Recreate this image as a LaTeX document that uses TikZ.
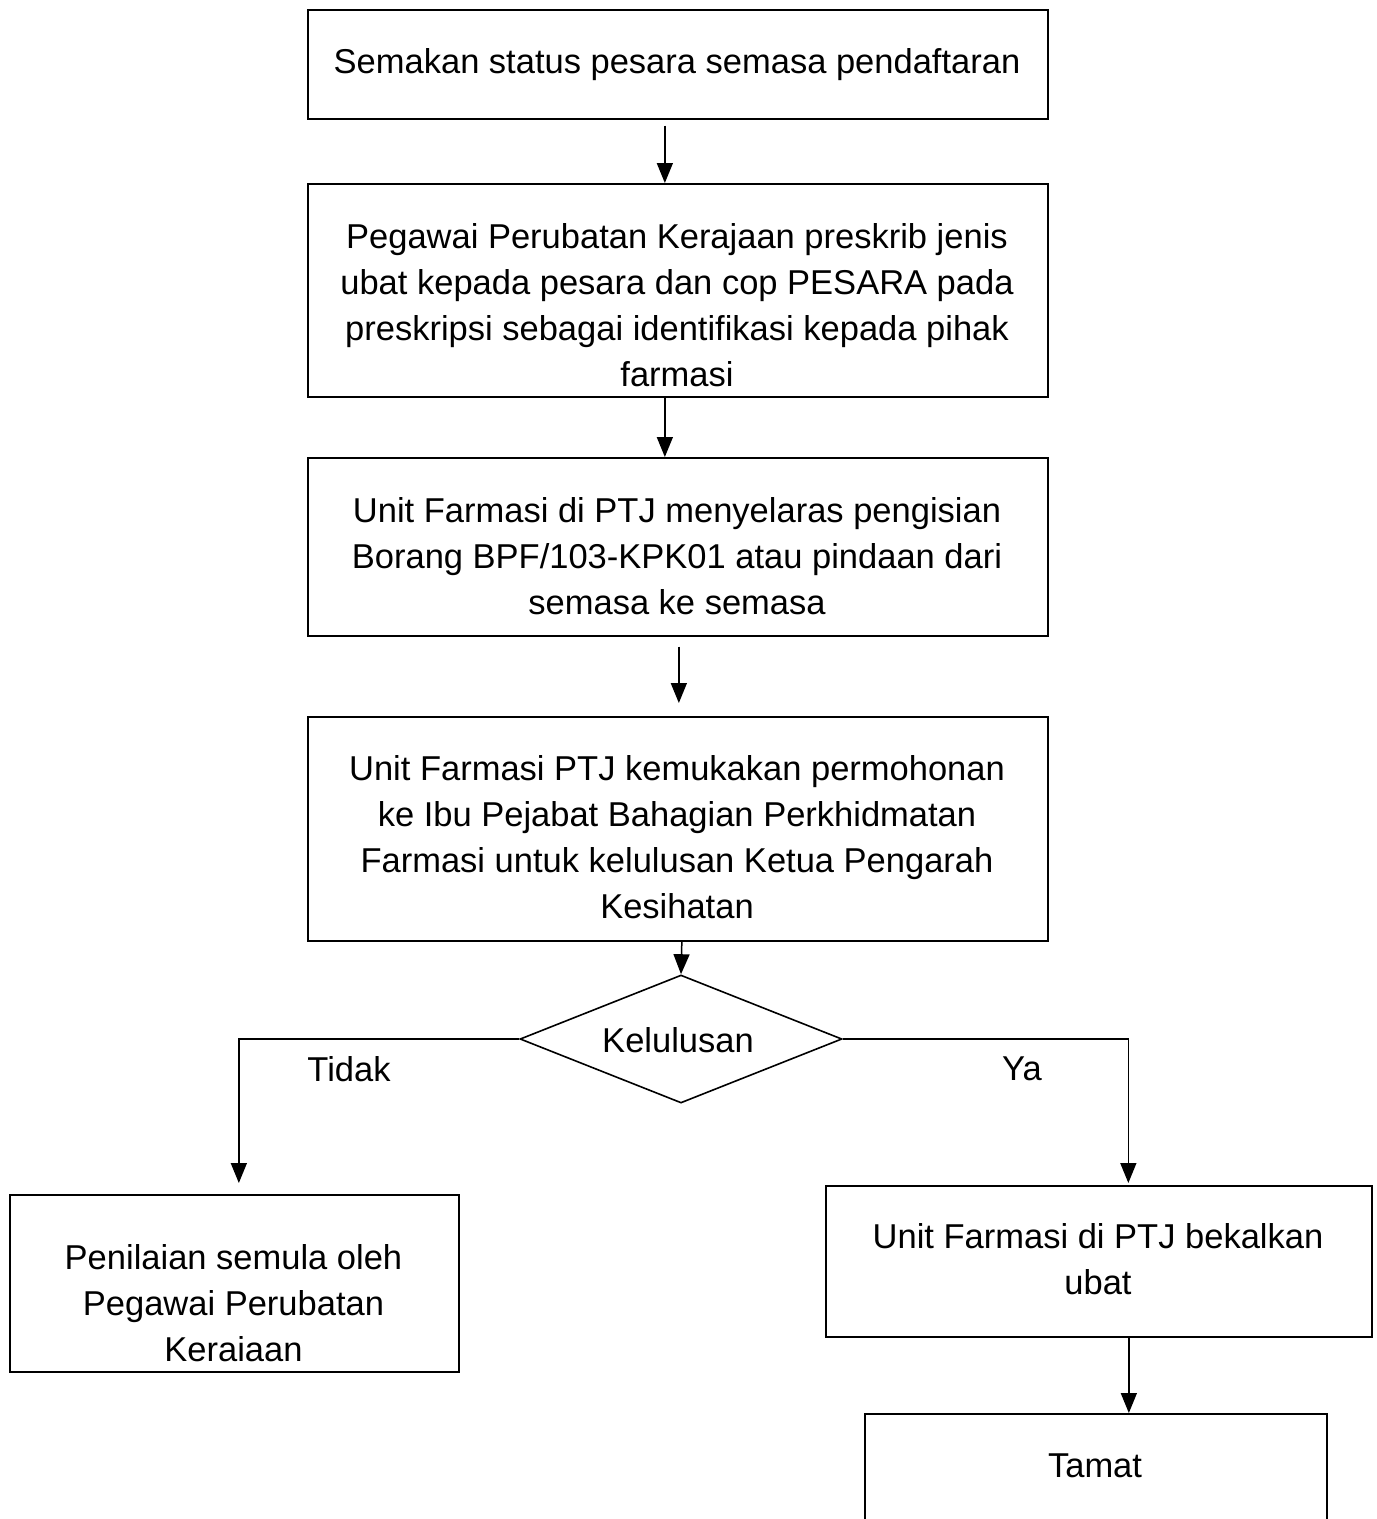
\documentclass[tikz,border=0pt]{standalone}
\usepackage{fontspec}
\setmainfont{Liberation Sans}
\usetikzlibrary{arrows.meta,shapes.geometric}
\begin{document}
\begin{tikzpicture}[x=1pt,y=-1pt,
  box/.style={draw,line width=1.7pt,inner sep=0pt,anchor=north west},
  txt/.style={align=center,inner sep=0pt,font=\fontsize{34.5}{46}\selectfont},
  arr/.style={line width=1.5pt,-{Triangle[length=20pt,width=16pt]}},
  ln/.style={line width=1.5pt}]
\useasboundingbox (0,0) rectangle (1377,1519);
\clip (0,0) rectangle (1377,1519);
\fill[white] (0,0) rectangle (1377,1519);
% boxes
\node[box,minimum width=740pt,minimum height=109pt] (b1) at (307,9) {};
\node[box,minimum width=740pt,minimum height=213pt] (b2) at (307,183) {};
\node[box,minimum width=740pt,minimum height=178pt] (b3) at (307,457) {};
\node[box,minimum width=740pt,minimum height=224pt] (b4) at (307,716) {};
\node[box,minimum width=449pt,minimum height=177pt] (b5) at (9,1194) {};
\node[box,minimum width=546pt,minimum height=151pt] (b6) at (825,1185) {};
\node[box,minimum width=462pt,minimum height=160pt] (b7) at (864,1413) {};
\node[draw,line width=1.6pt,shape=diamond,aspect=2.5156,minimum width=322pt,minimum height=128pt,inner sep=0pt] (dia) at (681,1039) {};
% texts
\node[txt] (t1) at (677,65) {Semakan status pesara semasa pendaftaran};
\node[txt] (t2) at (677,305) {Pegawai Perubatan Kerajaan preskrib jenis\\ubat kepada pesara dan cop PESARA pada\\preskripsi sebagai identifikasi kepada pihak\\farmasi};
\node[txt] (t3) at (677,556) {Unit Farmasi di PTJ menyelaras pengisian\\Borang BPF/103-KPK01 atau pindaan dari\\semasa ke semasa};
\node[txt] (t4) at (677,837) {Unit Farmasi PTJ kemukakan permohonan\\ke Ibu Pejabat Bahagian Perkhidmatan\\Farmasi untuk kelulusan Ketua Pengarah\\Kesihatan};
\node[txt] (t5) at (233.5,1303) {Penilaian semula oleh\\Pegawai Perubatan\\Keraiaan};
\node[txt] (t6) at (1098,1259) {Unit Farmasi di PTJ bekalkan\\ubat};
\node[txt] (t7) at (1095,1466) {Tamat};
\node[txt] (dt) at (678,1040) {Kelulusan};
\node[txt] (no) at (349,1069) {Tidak};
\node[txt] (yes) at (1022,1069) {Ya};
% connectors
\draw[arr] ([xshift=-13pt,yshift=-6pt]b1.south) -- ([xshift=-13pt]b2.north);
\draw[arr] ([xshift=-13pt]b2.south) -- ([xshift=-13pt]b3.north);
\draw[arr] ([xshift=1pt,yshift=-10pt]b3.south) -- ([xshift=1pt,yshift=13pt]b4.north);
\draw[arr] ([xshift=4pt]b4.south) -- (dia.north);
\draw[arr] (dia.west) -| ([xshift=4.5pt,yshift=11pt]b5.north);
\draw[arr] (dia.east) -| ([xshift=29.5pt,yshift=2pt]b6.north);
\draw[arr] ([xshift=30pt]b6.south) -- ([xshift=33pt]b7.north);
\end{tikzpicture}
\end{document}
